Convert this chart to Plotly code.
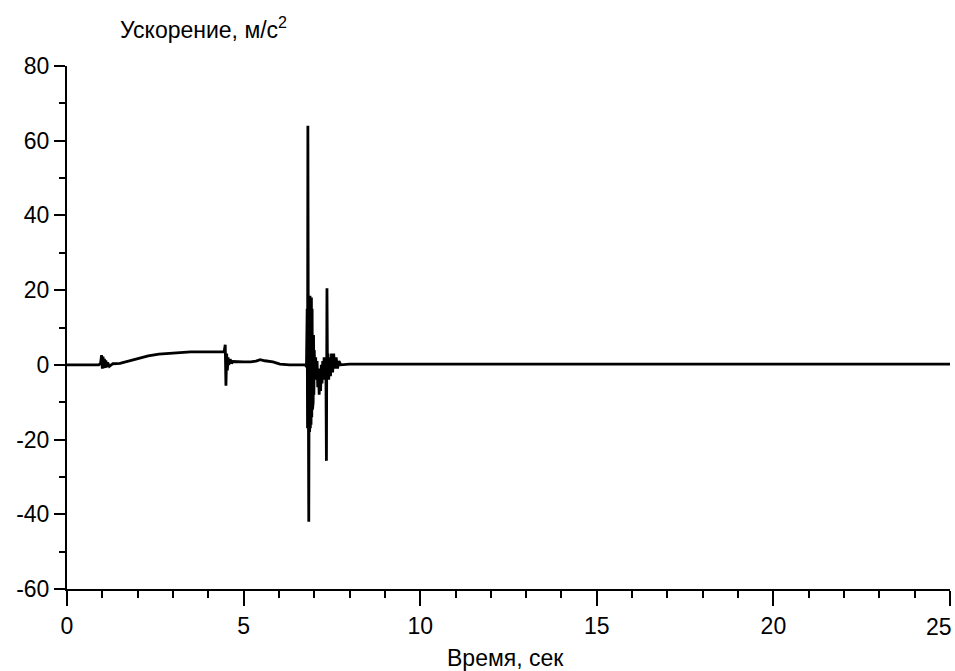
import plotly.graph_objects as go

# Time (s) and acceleration (m/s^2)
time_s = [
    0.0, 0.5, 0.9, 0.95, 0.98, 1.0, 1.02, 1.04, 1.06, 1.08, 1.10, 1.12, 1.15, 1.20,
    1.30, 1.50, 1.70, 2.00, 2.30, 2.60, 3.00, 3.50, 4.00, 4.45,
    4.48, 4.50, 4.52, 4.54, 4.56, 4.58, 4.62, 4.66, 4.70, 4.80, 5.00, 5.20, 5.35,
    5.47, 5.60, 5.83, 6.03, 6.30, 6.60, 6.75, 6.78,
    6.80, 6.81, 6.82, 6.835, 6.845, 6.86, 6.87, 6.88, 6.89, 6.90, 6.91, 6.92,
    6.93, 6.94, 6.95, 6.96, 6.97, 6.98, 6.99, 7.00, 7.02, 7.04, 7.06, 7.08,
    7.10, 7.12, 7.14, 7.16, 7.18, 7.20, 7.22, 7.24, 7.26, 7.28, 7.30, 7.33,
    7.345, 7.36, 7.375, 7.39, 7.41, 7.43, 7.46, 7.49, 7.52, 7.55, 7.58, 7.62,
    7.66, 7.70, 7.75, 8.0, 10.0, 15.0, 20.0, 25.0,
]
accel = [
    0.0, 0.0, 0.0, 0.4, 2.6, -1.0, 2.2, -0.9, 1.6, -0.8, 1.2, -0.6, 0.6, -0.4,
    0.3, 0.4, 0.9, 1.7, 2.4, 2.9, 3.2, 3.5, 3.5, 3.5,
    5.4, -5.6, 3.0, -1.5, 2.0, 0.0, 1.5, 0.4, 0.9, 0.8, 0.8, 0.8, 1.0,
    1.4, 1.1, 0.8, 0.2, 0.0, 0.0, 0.0, -0.5,
    15.0, -17.0, 64.0, -10.0, -42.0, 17.0, -18.0, 18.5, -17.0, 16.0, -16.0, 18.0,
    -14.0, 15.0, -12.0, 12.0, -10.0, 8.0, -8.0, 4.0, -4.0, 2.0, -3.0, 1.0,
    -6.0, -1.0, -8.0, -2.0, -7.0, 0.0, -5.0, 1.0, -4.0, 2.0, -3.0, -1.0,
    -25.7, 20.5, -3.0, 3.0, -4.0, 2.0, -3.0, 3.0, -2.0, 3.0, -1.0, 2.0,
    -1.0, 1.0, 0.0, 0.2, 0.2, 0.2, 0.2, 0.2,
]

x_tick_vals = [0, 5, 10, 15, 20, 25]
y_tick_vals = [-60, -40, -20, 0, 20, 40, 60, 80]

y_title = "Ускорение, м/с<sup>2</sup>"
x_title = "Время, сек"

font_family = "Liberation Sans, Arial, sans-serif"
font_size = 23

# last x tick label sits at the right edge of the page; draw it right-aligned
x_tick_text = [str(v) for v in x_tick_vals[:-1]] + [""]
last_x_tick = x_tick_vals[-1]

fig = go.Figure()
fig.add_trace(go.Scatter(
    x=time_s, y=accel, mode="lines",
    line=dict(color="black", width=2.8),
    hoverinfo="skip", showlegend=False,
))

fig.update_layout(
    width=955, height=671,
    margin=dict(l=67, r=5, t=66, b=82),
    paper_bgcolor="white", plot_bgcolor="white",
    font=dict(family=font_family, size=font_size, color="black"),
    xaxis=dict(
        range=[0, 25], tickvals=x_tick_vals, ticktext=x_tick_text,
        showgrid=False, zeroline=False, showline=True, linecolor="black", linewidth=2,
        ticks="outside", ticklen=15, tickwidth=2, tickcolor="black",
        minor=dict(dtick=1, ticks="outside", ticklen=7, tickwidth=2, tickcolor="black", showgrid=False),
        automargin=False, ticklabeloverflow="allow",
        fixedrange=True,
    ),
    yaxis=dict(
        range=[-60, 80], tickvals=y_tick_vals, ticktext=[str(v) for v in y_tick_vals],
        showgrid=False, zeroline=False, showline=True, linecolor="black", linewidth=2,
        ticks="outside", ticklen=11, tickwidth=2, tickcolor="black",
        minor=dict(dtick=10, ticks="outside", ticklen=6, tickwidth=2, tickcolor="black", showgrid=False),
        automargin=False, ticklabeloverflow="allow",
        fixedrange=True,
    ),
    annotations=[
        dict(text=y_title, xref="paper", yref="paper",
             x=0.058, y=1.0727, xanchor="left", yanchor="middle", showarrow=False,
             font=dict(family=font_family, size=font_size, color="black")),
        dict(text=x_title, xref="paper", yref="paper",
             x=0.497, y=-0.132, xanchor="center", yanchor="middle", showarrow=False,
             font=dict(family=font_family, size=font_size, color="black")),
        dict(text=str(last_x_tick), xref="x", yref="paper",
             x=last_x_tick, y=-0.0727, xanchor="right", yanchor="middle", xshift=4,
             showarrow=False,
             font=dict(family=font_family, size=font_size, color="black")),
    ],
)

fig.write_html("out.html", post_script="document.body.style.margin='0';",
               config={"displayModeBar": False})
